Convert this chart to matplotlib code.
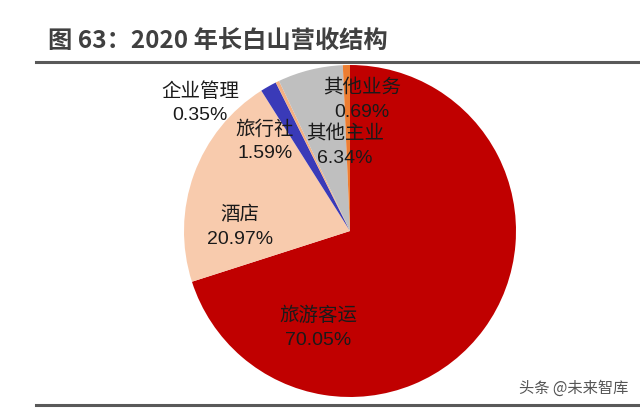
import numpy as np
import matplotlib.pyplot as plt
from matplotlib.lines import Line2D

plt.rcParams['font.family'] = ['Liberation Sans', 'Noto Sans CJK SC', 'DejaVu Sans']

# data
names = ['旅游客运', '酒店', '旅行社', '企业管理', '其他主业', '其他业务']
shares = [70.05, 20.97, 1.59, 0.35, 6.34, 0.69]
slice_colors = ['#C00000', '#F8CBAD', '#3A3AB8', '#F4B183', '#BFBFBF', '#ED7D31']
# label anchor points in pixels (x, y from top)
label_px = [(318, 328), (240, 227), (265, 141), (200, 103), (345, 146), (362, 100)]

W, H = 640, 409
fig = plt.figure(figsize=(W / 100, H / 100), dpi=100)

cx, cy, r = 350, 231, 166
ax = fig.add_axes([(cx - r) / W, (H - cy - r) / H, 2 * r / W, 2 * r / H])
ax.pie(shares, colors=slice_colors, startangle=90, counterclock=False,
       radius=1, center=(0, 0), wedgeprops=dict(linewidth=0))
ax.set_xlim(-1, 1)
ax.set_ylim(-1, 1)
ax.set_aspect('auto')
ax.axis('off')

for name, val, (px, py) in zip(names, shares, label_px):
    fig.text(px / W, 1 - py / H, f'{name}\n{val:.2f}%', ha='center', va='center',
             fontsize=14, color='#1a1a1a', linespacing=1.5)

# title and rules
fig.text(48 / W, 1 - 42 / H, '图 63：2020 年长白山营收结构', fontsize=17.5,
         fontweight='bold', color='#404040', va='center', ha='left',
         family=['Noto Sans CJK SC', 'DejaVu Sans'])
fig.add_artist(Line2D([36 / W, 1], [1 - 62 / H] * 2, color='#595959', lw=2.2))
fig.add_artist(Line2D([36 / W, 1], [1 - 405 / H] * 2, color='#595959', lw=2.2))

fig.text(628 / W, 1 - 388 / H, '头条 @未来智库', fontsize=11, color='#555555',
         ha='right', va='center', family=['Noto Sans CJK SC', 'DejaVu Sans'])

fig.savefig('out.png', dpi=100)
